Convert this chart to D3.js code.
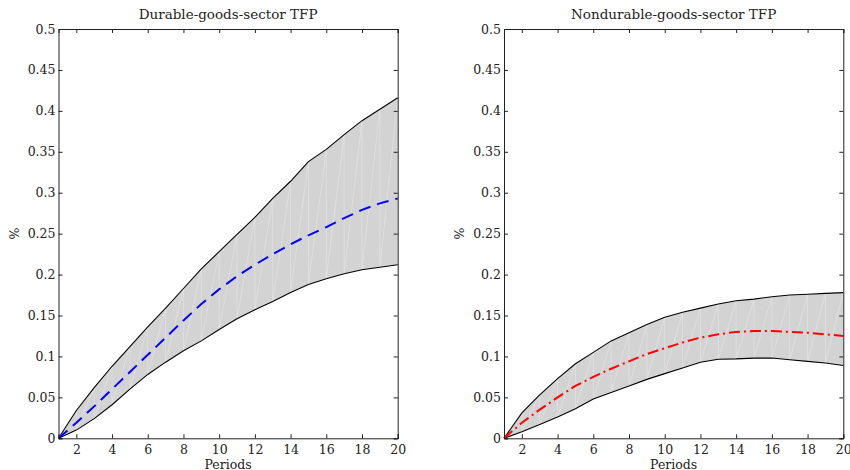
<!DOCTYPE html>
<head>
<meta charset="utf-8">
<script src="https://cdn.jsdelivr.net/npm/d3@7/dist/d3.min.js"></script>
<style>
body { margin: 0; background: #fff; }
text { font-family: "DejaVu Serif", "Liberation Serif", "Times New Roman", serif; fill: #222; }
</style>
</head>
<body>
<script>
// periods 1..20
var periods = d3.range(1, 21);
var yTicks = [0, 0.05, 0.1, 0.15, 0.2, 0.25, 0.3, 0.35, 0.4, 0.45, 0.5];
var xTicks = [2, 4, 6, 8, 10, 12, 14, 16, 18, 20];

// durable-goods sector
var durUpper = [0, 0.034, 0.062, 0.088, 0.112, 0.136, 0.159, 0.183, 0.207, 0.228,
  0.249, 0.270, 0.293, 0.314, 0.338, 0.353, 0.371, 0.388, 0.402, 0.416];
var durMedian = [0, 0.019, 0.039, 0.060, 0.081, 0.102, 0.123, 0.144, 0.164, 0.182,
  0.198, 0.212, 0.225, 0.237, 0.248, 0.258, 0.269, 0.279, 0.287, 0.293];
var durLower = [0, 0.010, 0.024, 0.041, 0.060, 0.078, 0.093, 0.107, 0.119, 0.133,
  0.146, 0.157, 0.167, 0.178, 0.188, 0.195, 0.201, 0.206, 0.209, 0.212];

// nondurable-goods sector
var ndUpper = [0, 0.031, 0.053, 0.073, 0.091, 0.105, 0.119, 0.129, 0.139, 0.148,
  0.154, 0.159, 0.164, 0.168, 0.170, 0.173, 0.175, 0.176, 0.177, 0.178];
var ndMedian = [0, 0.019, 0.035, 0.050, 0.064, 0.075, 0.085, 0.094, 0.103, 0.110,
  0.117, 0.123, 0.127, 0.130, 0.131, 0.131, 0.130, 0.129, 0.127, 0.125];
var ndLower = [0, 0.008, 0.017, 0.026, 0.036, 0.048, 0.056, 0.064, 0.072, 0.079,
  0.086, 0.093, 0.0965, 0.097, 0.098, 0.098, 0.096, 0.094, 0.092, 0.089];

var width = 850, height = 470;
var svg = d3.select("body").append("svg")
  .attr("width", width)
  .attr("height", height);

function panel(x0, x1, title, upper, median, lower, color, dash) {
  var x = d3.scaleLinear().domain([1, 20]).range([x0, x1]);
  var y = d3.scaleLinear().domain([0, 0.5]).range([438.3, 29]);
  var g = svg.append("g");

  // shaded band, drawn as triangles like matlab's fill
  var band = d3.area()
    .x(function(d, i) { return x(periods[i]); })
    .y0(function(d, i) { return y(lower[i]); })
    .y1(function(d) { return y(d); });
  g.append("path").datum(upper)
    .attr("d", band)
    .attr("fill", "#d3d3d3");
  var tris = [];
  for (var i = 0; i < periods.length - 1; i++) {
    tris.push([[periods[i], upper[i]], [periods[i], lower[i]], [periods[i + 1], upper[i + 1]]]);
    tris.push([[periods[i + 1], upper[i + 1]], [periods[i], lower[i]], [periods[i + 1], lower[i + 1]]]);
  }
  g.selectAll("path.tri").data(tris).enter().append("path")
    .attr("class", "tri")
    .attr("d", function(t) { return "M" + t.map(function(p) { return x(p[0]) + "," + y(p[1]); }).join("L") + "Z"; })
    .attr("fill", "none")
    .attr("stroke", "#ffffff")
    .attr("stroke-opacity", 0.25)
    .attr("stroke-width", 0.6);

  var line = function(vals) {
    return d3.line()
      .x(function(d, i) { return x(periods[i]); })
      .y(function(d) { return y(d); })(vals);
  };
  g.append("path").attr("d", line(upper))
    .attr("fill", "none").attr("stroke", "#000").attr("stroke-width", 1.1);
  g.append("path").attr("d", line(lower))
    .attr("fill", "none").attr("stroke", "#000").attr("stroke-width", 1.1);
  g.append("path").attr("d", line(median))
    .attr("fill", "none").attr("stroke", color).attr("stroke-width", 2)
    .attr("stroke-dasharray", dash);

  // axes with inward ticks on all four sides
  var tl = 4;
  g.append("g").attr("transform", "translate(0," + y(0) + ")")
    .call(d3.axisBottom(x).tickValues(xTicks).tickSize(-tl).tickPadding(7).tickFormat(d3.format("d")));
  g.append("g").attr("transform", "translate(0," + y(0.5) + ")")
    .call(d3.axisTop(x).tickValues(xTicks).tickSize(-tl).tickFormat(""));
  g.append("g").attr("transform", "translate(" + x0 + ",0)")
    .call(d3.axisLeft(y).tickValues(yTicks).tickSize(-tl).tickPadding(3).tickFormat(function(d) { return d3.format("~g")(d); }));
  g.append("g").attr("transform", "translate(" + x1 + ",0)")
    .call(d3.axisRight(y).tickValues(yTicks).tickSize(-tl).tickFormat(""));
  g.selectAll("g").attr("font-family", null);
  g.selectAll(".domain").attr("stroke", "#222").attr("stroke-width", 1);
  g.selectAll(".tick line").attr("stroke", "#222");
  g.selectAll(".tick text").style("font-size", "12.5px").attr("fill", "#333");

  g.append("text")
    .attr("x", (x0 + x1) / 2).attr("y", 19)
    .attr("text-anchor", "middle")
    .style("font-size", "13.5px")
    .text(title);
  g.append("text")
    .attr("x", (x0 + x1) / 2).attr("y", 469)
    .attr("text-anchor", "middle")
    .style("font-size", "12.5px").attr("fill", "#333")
    .text("Periods");
  g.append("text")
    .attr("transform", "translate(" + (x0 - 40) + "," + y(0.25) + ") rotate(-90)")
    .attr("text-anchor", "middle")
    .style("font-size", "12.5px").attr("fill", "#333")
    .text("%");
}

panel(58.5, 397.7, "Durable-goods-sector TFP", durUpper, durMedian, durLower, "#0000ff", "12,7");
panel(504, 843.3, "Nondurable-goods-sector TFP", ndUpper, ndMedian, ndLower, "#ff0000", "11,4,2,4");
</script>
</body>
